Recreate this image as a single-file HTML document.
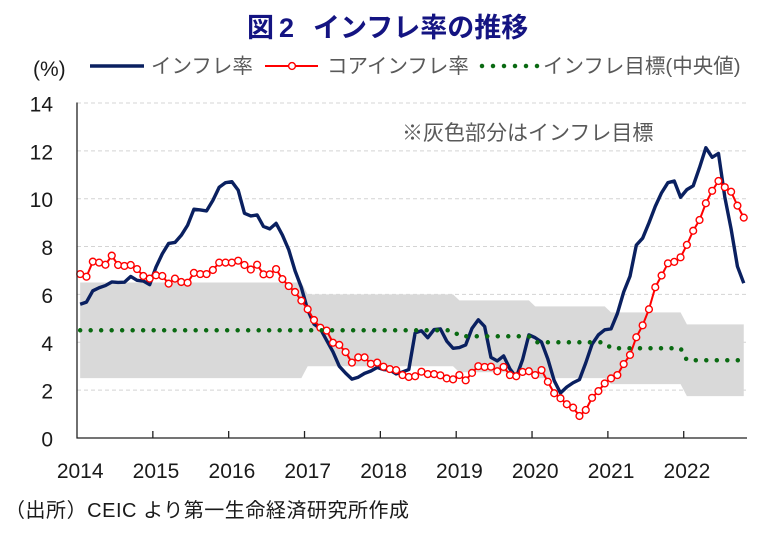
<!DOCTYPE html>
<html>
<head>
<meta charset="utf-8">
<style>
  html,body{margin:0;padding:0;background:#fff;}
  body{width:782px;height:539px;overflow:hidden;}
  svg{display:block;}
  .jp{font-family:"Liberation Sans","Noto Sans CJK JP",sans-serif;}
  .num{font-family:"Liberation Sans",sans-serif;}
</style>
</head>
<body>
<svg id="c" width="782" height="539" viewBox="0 0 782 539" xmlns="http://www.w3.org/2000/svg">
  <!-- Title -->
  <g class="jp" font-weight="bold" fill="#141482" font-size="27">
    <text x="247" y="37">図</text>
    <text x="279" y="37" class="num" font-family="Liberation Sans, sans-serif">2</text>
    <text x="313" y="37">インフレ率の推移</text>
  </g>

  <!-- (%) -->
  <text x="33" y="76" class="num" font-size="21" fill="#1a1a1a">(%)</text>

  <!-- Legend -->
  <line x1="90" y1="66" x2="144" y2="66" stroke="#0a2060" stroke-width="3.4"/>
  <text x="151" y="73" class="jp" font-size="20.5" fill="#595959">インフレ率</text>
  <line x1="265" y1="66" x2="318" y2="66" stroke="#ff0000" stroke-width="2"/>
  <circle cx="292" cy="66" r="3.4" fill="#fff" stroke="#ff0000" stroke-width="1.4"/>
  <text x="327" y="73" class="jp" font-size="20.5" fill="#595959">コアインフレ率</text>
  <line x1="482" y1="66" x2="538" y2="66" stroke="#0a6a12" stroke-width="4.5" stroke-linecap="round" stroke-dasharray="0 11"/>
  <text x="543" y="73" class="jp" font-size="20.5" fill="#595959">インフレ目標(中央値)</text>

  <!-- Grid -->
  <g id="grid" stroke="#d4d4d4" stroke-width="1" stroke-dasharray="4 3"></g>
  <!-- Band -->
  <g id="band"></g>
  <!-- Series -->
  <g id="series"></g>

  <!-- Axes -->
  <line x1="77" y1="102.5" x2="77" y2="438.5" stroke="#222" stroke-width="1.3"/>
  <line x1="76.5" y1="438" x2="747" y2="438" stroke="#222" stroke-width="1.3"/>
  <g id="ticks" stroke="#222" stroke-width="1.3"></g>

  <!-- Y labels -->
  <g class="num" font-size="21" fill="#1a1a1a" text-anchor="end">
    <text x="53" y="111.5">14</text>
    <text x="53" y="159.4">12</text>
    <text x="53" y="207.2">10</text>
    <text x="53" y="255.1">8</text>
    <text x="53" y="303">6</text>
    <text x="53" y="350.9">4</text>
    <text x="53" y="398.7">2</text>
    <text x="53" y="446.6">0</text>
  </g>

  <!-- X labels -->
  <g class="num" font-size="21" fill="#1a1a1a" text-anchor="middle">
    <text x="80.2" y="478">2014</text>
    <text x="156" y="478">2015</text>
    <text x="231.9" y="478">2016</text>
    <text x="307.7" y="478">2017</text>
    <text x="383.6" y="478">2018</text>
    <text x="459.4" y="478">2019</text>
    <text x="535.2" y="478">2020</text>
    <text x="611.1" y="478">2021</text>
    <text x="686.9" y="478">2022</text>
  </g>

  <!-- Annotation -->
  <text x="402" y="140" class="jp" font-size="21" fill="#595959">※灰色部分はインフレ目標</text>

  <!-- Footnote -->
  <text x="5" y="517" class="jp" font-size="20" fill="#1a1a1a" textLength="404" lengthAdjust="spacing">（出所）CEIC より第一生命経済研究所作成</text>
</svg>

<script>
(function(){
  var NS="http://www.w3.org/2000/svg";
  function X(i){return 77+6.32*(i+0.5);}
  function Y(v){return 438-v*23.93;}
  function el(tag,attrs,parent){var e=document.createElementNS(NS,tag);for(var k in attrs)e.setAttribute(k,attrs[k]);parent.appendChild(e);return e;}

  var infl=[5.59,5.68,6.15,6.28,6.37,6.52,6.50,6.51,6.75,6.59,6.56,6.41,
    7.14,7.70,8.13,8.17,8.47,8.89,9.56,9.53,9.49,9.93,10.48,10.67,
    10.71,10.36,9.39,9.28,9.32,8.84,8.74,8.97,8.48,7.87,6.99,6.29,
    5.35,4.76,4.57,4.08,3.60,3.00,2.71,2.46,2.54,2.70,2.80,2.95,
    2.86,2.84,2.68,2.76,2.86,4.39,4.48,4.19,4.53,4.56,4.05,3.75,
    3.78,3.89,4.58,4.94,4.66,3.37,3.22,3.43,2.89,2.54,3.27,4.31,
    4.19,4.01,3.30,2.40,1.88,2.13,2.31,2.44,3.14,3.92,4.31,4.52,
    4.56,5.20,6.10,6.76,8.06,8.35,8.99,9.68,10.25,10.67,10.74,10.06,
    10.38,10.54,11.30,12.13,11.73,11.89,10.07,8.73,7.17,6.47];
  var core=[6.85,6.74,7.37,7.33,7.24,7.62,7.23,7.19,7.23,7.06,6.77,6.66,
    6.80,6.77,6.45,6.66,6.52,6.49,6.90,6.85,6.85,7.02,7.33,7.33,
    7.33,7.41,7.23,7.04,7.24,6.84,6.84,7.06,6.64,6.35,6.10,5.74,
    5.38,4.93,4.61,4.49,3.98,3.89,3.59,3.15,3.37,3.37,3.10,3.15,
    2.98,2.88,2.84,2.63,2.55,2.58,2.77,2.67,2.67,2.62,2.49,2.45,
    2.63,2.41,2.72,3.00,2.97,2.98,2.79,2.97,2.63,2.58,2.76,2.79,
    2.63,2.84,2.35,1.87,1.66,1.41,1.27,0.92,1.17,1.68,1.96,2.28,
    2.49,2.63,3.09,3.47,4.21,4.71,5.38,6.30,6.79,7.30,7.36,7.55,
    8.07,8.66,9.11,9.81,10.33,10.74,10.48,10.29,9.71,9.21];
  var tgt=[4.5,4.5,4.5,4.5,4.5,4.25,4.0,3.75,3.25];
  var lo=[2.5,2.5,2.5,3.0,3.0,2.75,2.5,2.25,1.75];
  var hi=[6.5,6.5,6.5,6.0,6.0,5.75,5.5,5.25,4.75];
  var N=106;

  var g=document.getElementById("grid");
  for(var v=2;v<=14;v+=2){
    el("line",{x1:77,y1:Y(v).toFixed(2),x2:747,y2:Y(v).toFixed(2)},g);
  }
  var up=[],dn=[];
  for(var i=0;i<N;i++){var yr=Math.floor(i/12);up.push(X(i).toFixed(2)+","+Y(hi[yr]).toFixed(2));dn.push(X(i).toFixed(2)+","+Y(lo[yr]).toFixed(2));}
  dn.reverse();
  el("polygon",{points:up.concat(dn).join(" "),fill:"#d9d9d9",stroke:"none"},document.getElementById("band"));

  var s=document.getElementById("series");
  var p=[];for(var i=0;i<N;i++)p.push(X(i).toFixed(2)+","+Y(infl[i]).toFixed(2));
  el("polyline",{points:p.join(" "),fill:"none",stroke:"#0a2060","stroke-width":3.4,"stroke-linejoin":"round"},s);
  var q=[];for(var i=0;i<N;i++)q.push(X(i).toFixed(2)+","+Y(core[i]).toFixed(2));
  el("polyline",{points:q.join(" "),fill:"none",stroke:"#ff0000","stroke-width":2,"stroke-linejoin":"round"},s);
  for(var i=0;i<N;i++){
    el("circle",{cx:X(i).toFixed(2),cy:Y(core[i]).toFixed(2),r:3.4,fill:"#fff",stroke:"#ff0000","stroke-width":1.4},s);
  }
  var t=[];for(var i=0;i<N;i++)t.push(X(i).toFixed(2)+","+Y(tgt[Math.floor(i/12)]).toFixed(2));
  el("polyline",{points:t.join(" "),fill:"none",stroke:"#0a6a12","stroke-width":4.5,"stroke-linecap":"round","stroke-dasharray":"0 10.5"},s);

  var tk=document.getElementById("ticks");
  for(var k=1;k<=8;k++){var x=77+6.32*12*k;el("line",{x1:x.toFixed(2),y1:431,x2:x.toFixed(2),y2:438},tk);}
})();
</script>
</body>
</html>
